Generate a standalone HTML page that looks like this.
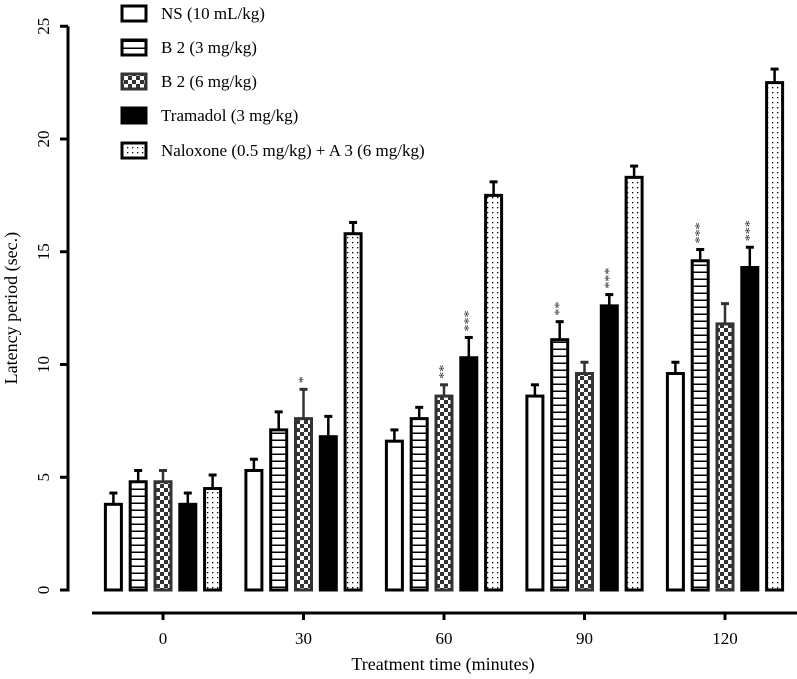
<!DOCTYPE html>
<html><head><meta charset="utf-8"><style>
body{margin:0;background:#fff}
svg{display:block}
svg text{font-family:"Liberation Serif","Times New Roman","DejaVu Serif",serif}
</style></head><body>
<svg id="chart" width="797" height="679" viewBox="0 0 797 679">
<defs>
<pattern id="pLines" width="7" height="7" patternUnits="userSpaceOnUse"><rect width="7" height="7" fill="#fff"/><rect y="5.5" width="7" height="1.5" fill="#000"/></pattern>
<pattern id="pCheck" width="8" height="8" patternUnits="userSpaceOnUse"><rect width="8" height="8" fill="#333"/><rect width="4" height="4" fill="#fff"/><rect x="4" y="4" width="4" height="4" fill="#fff"/></pattern>
<pattern id="pDots" width="5" height="5" patternUnits="userSpaceOnUse"><rect width="5" height="5" fill="#fff"/><rect x="2" y="2" width="1.3" height="1.3" fill="#000"/></pattern>
</defs>
<g id="plot"></g>
</svg>
<script>
const categories=["0","30","60","90","120"];
const seriesNames=["NS (10 mL/kg)","B 2 (3 mg/kg)","B 2 (6 mg/kg)","Tramadol (3 mg/kg)","Naloxone (0.5 mg/kg) + A 3 (6 mg/kg)"];
const nsVals=[3.8,5.3,6.6,8.6,9.6];
const b23Vals=[4.8,7.1,7.6,11.1,14.6];
const b26Vals=[4.8,7.6,8.6,9.6,11.8];
const tramVals=[3.8,6.8,10.3,12.6,14.3];
const naloxVals=[4.5,15.8,17.5,18.3,22.5];
const nsErr=[0.5,0.5,0.5,0.5,0.5];
const b23Err=[0.5,0.8,0.5,0.8,0.5];
const b26Err=[0.5,1.3,0.5,0.5,0.9];
const tramErr=[0.5,0.9,0.9,0.5,0.9];
const naloxErr=[0.6,0.5,0.6,0.5,0.6];
const b23Stars=["","","","**","***"];
const b26Stars=["","*","**","",""];
const tramStars=["","","***","***","***"];
const yTicks=[0,5,10,15,20,25];

const ns="http://www.w3.org/2000/svg";
const g=document.getElementById('plot');
const y=v=>590-v*22.55;
const gx=i=>163+i*140.5;
const bx=(i,s)=>gx(i)+(s-2)*24.8;
function el(t,a,p){const e=document.createElementNS(ns,t);for(const k in a)e.setAttribute(k,a[k]);(p||g).appendChild(e);return e;}
const fills=["#fff","url(#pLines)","url(#pCheck)","#000","url(#pDots)"];
const strokes=["#000","#000","#333","#000","#000"];
const vals=[nsVals,b23Vals,b26Vals,tramVals,naloxVals];
const errs=[nsErr,b23Err,b26Err,tramErr,naloxErr];
const stars=[null,b23Stars,b26Stars,tramStars,null];

const ya=el('line',{x1:68,y1:y(25),x2:68,y2:y(0)+1.5,stroke:'#000','stroke-width':3});


yTicks.forEach(t=>{
  el('line',{x1:60,x2:68,y1:y(t),y2:y(t),stroke:'#000','stroke-width':3});
  const tx=el('text',{x:0,y:0,'font-size':17,'text-anchor':'middle',transform:`translate(49,${y(t)}) rotate(-90)`});
  tx.textContent=t;
  
  
});
const yl=el('text',{'font-size':18,'text-anchor':'middle',transform:`translate(17,${y(12.5)}) rotate(-90)`});
yl.textContent="Latency period (sec.)";



const xa=el('line',{x1:92,x2:797,y1:613,y2:613,stroke:'#000','stroke-width':3});


categories.forEach((c,i)=>{
  el('line',{x1:gx(i),x2:gx(i),y1:613,y2:620,stroke:'#000','stroke-width':3});
  const tx=el('text',{x:gx(i),y:644,'font-size':17,'text-anchor':'middle'});
  tx.textContent=c;
  
  
});
const xl=el('text',{x:443,y:670,'font-size':18,'text-anchor':'middle'});
xl.textContent="Treatment time (minutes)";



categories.forEach((c,i)=>{
  for(let s=0;s<5;s++){
    const v=vals[s][i],e=errs[s][i],cx=bx(i,s);
    el('line',{x1:cx,x2:cx,y1:y(v),y2:y(v+e),stroke:strokes[s],'stroke-width':2.5});
    el('line',{x1:cx-4,x2:cx+4,y1:y(v+e),y2:y(v+e),stroke:strokes[s],'stroke-width':3});
    const r=el('rect',{x:cx-8,y:y(v),width:16,height:y(0)-y(v),fill:fills[s],stroke:strokes[s],'stroke-width':3});
    
    
    if(stars[s]&&stars[s][i]){
      const st=el('text',{'font-size':14,fill:'#333','text-anchor':'start',transform:`translate(${cx+4},${y(v+e)-6}) rotate(-90)`});
      st.textContent=stars[s][i];
      
      
    }
  }
});

const ly=[13,47,81,115,150];
seriesNames.forEach((n,s)=>{
  const r=el('rect',{x:122,y:ly[s]-7,width:24,height:15,fill:fills[s],stroke:strokes[s],'stroke-width':3});
  
  
  const t=el('text',{x:161,y:ly[s]+6,'font-size':17});
  t.textContent=n;
  
  
});
</script>
</body></html>
